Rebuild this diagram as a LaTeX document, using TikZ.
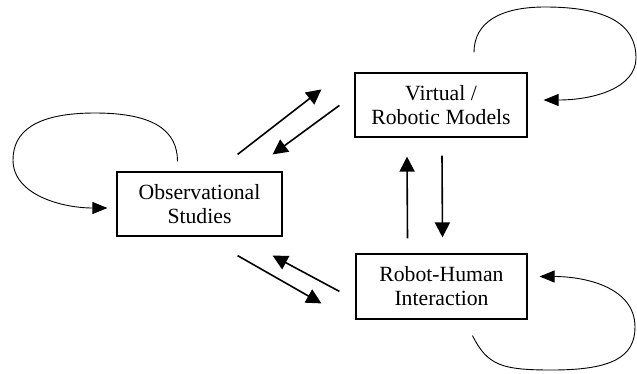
\documentclass[tikz,border=0pt]{standalone}
\usepackage{fontspec}
\setmainfont{Liberation Serif}
\usetikzlibrary{arrows.meta}
\begin{document}
\begin{tikzpicture}[x=1pt,y=-1pt,
  box/.style={draw,line width=1.2pt,inner sep=0pt,align=center,
    font=\fontsize{21.7}{24}\selectfont},
  link/.style={line width=1.6pt,-{Triangle[length=15pt,width=15pt]}},
  selfloop/.style={line width=0.9pt,-{Triangle[length=15pt,width=12pt]}}]
\useasboundingbox (0,0) rectangle (637,373);

% the three study boxes
\node[box,minimum width=165pt,minimum height=64pt] (obs) at (199.5,204)
  {Observational\\Studies};
\node[box,minimum width=172pt,minimum height=64pt] (vrm) at (441,105)
  {Virtual /\\Robotic Models};
\node[box,minimum width=171pt,minimum height=65pt] (rhi) at (441.5,286.5)
  {Robot-Human\\Interaction};

% links between boxes
\draw[link] ([shift={(-45,-17)}]obs.north east) -- ([shift={(-33,17)}]vrm.north west);
\draw[link] ([shift={(-15,33)}]vrm.north west) -- ([shift={(-10,-17)}]obs.north east);
\draw[link] ([shift={(-45,19)}]obs.south east) -- ([shift={(-34,50)}]rhi.north west);
\draw[link] ([shift={(-16,38)}]rhi.north west) -- ([shift={(-10,19)}]obs.south east);
\draw[link] ([shift={(-34,-15)}]rhi.north) -- ([shift={(-34,19)}]vrm.south);
\draw[link] ([shift={(1,18)}]vrm.south) -- ([shift={(1,-16)}]rhi.north);

% self loops
\draw[selfloop] ([shift={(-22,-10)}]obs.north)
  .. controls +(0,-30) and +(60,0) .. (95,113)
  .. controls +(-60,0) and +(0,-28) .. (13,160)
  .. controls +(0,35) and +(-45,0) .. ([shift={(-9,4)}]obs.west);
\draw[selfloop] ([shift={(33,-20)}]vrm.north)
  .. controls +(0,-30) and +(-45,0) .. (545,7)
  .. controls +(60,0) and +(0,-35) .. (636,58)
  .. controls +(0,30) and +(50,0) .. ([shift={(16,-5)}]vrm.east);
\draw[selfloop] ([shift={(31,16)}]rhi.south)
  .. controls +(15,30) and +(-50,0) .. (552,370)
  .. controls +(60,0) and +(0,30) .. (635,327)
  .. controls +(0,-40) and +(45,0) .. ([shift={(12,-10)}]rhi.east);
\end{tikzpicture}
\end{document}
